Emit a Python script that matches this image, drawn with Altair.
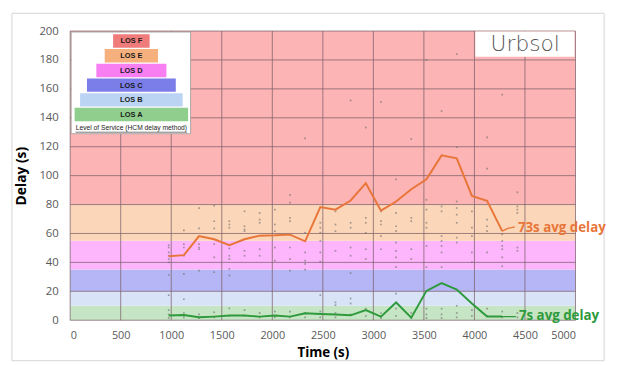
import altair as alt
import pandas as pd

# ---------------- data ----------------
times = [975, 1125, 1275, 1425, 1575, 1725, 1875, 2025, 2175, 2325, 2475, 2625,
         2775, 2925, 3075, 3225, 3375, 3525, 3675, 3825, 3975, 4125, 4275]
avg_delay = [44.2, 45.0, 58.2, 56.0, 51.9, 56.0, 58.5, 58.7, 59.2, 54.6, 78.3, 76.5,
             82.8, 94.8, 75.8, 82.1, 90.6, 97.4, 114.0, 112.0, 86.0, 82.6, 61.6]
short_delay = [3.2, 3.6, 2.0, 2.5, 3.2, 3.2, 2.5, 3.2, 2.5, 4.8, 4.3, 4.0,
               3.4, 7.0, 2.5, 12.3, 1.8, 20.3, 25.7, 21.2, 11.6, 2.5, 2.5]

scatter_times = [975, 1125, 1275, 1425, 1575, 1725, 1875, 2025, 2175, 2325, 2475, 2625,
                 2775, 2925, 3075, 3225, 3375, 3525, 3675, 3825, 3975, 4125, 4275, 4425]
scatter_delays = [
    [51.9, 50.3, 46.9, 44.6, 42.3, 40.1, 31.4, 17.3, 7.0, 4, 1.5],
    [62.1, 52.6, 50.3, 44.6, 32.1, 14.5, 5, 2],
    [77.6, 63.5, 52.6, 50.3, 49.1, 34.3, 4, 1.5],
    [79.2, 68.5, 63.5, 56, 52.6, 43.5, 33.2, 5.5, 2],
    [68.5, 66.2, 64, 49.6, 44.6, 42.3, 35.5, 30.9, 8.2, 3],
    [75.3, 65, 62.8, 61.6, 48, 44.6, 7, 3],
    [74.2, 69.6, 67.4, 49.1, 44.6, 5, 2],
    [76.5, 66.2, 61.6, 50.3, 41.2, 6, 2],
    [86.7, 81.4, 70.8, 68.5, 50.3, 42.3, 34.3, 6, 2],
    [125.8, 60.5, 46.9, 41.2, 38.9, 35, 5, 2],
    [67.4, 64, 60.5, 54.8, 46.9, 40.5, 17.3, 6, 2],
    [75.3, 66.2, 61.6, 48, 12.3, 10.4, 5, 2],
    [152, 67.4, 64, 50.3, 44.6, 32.6, 15, 11.6, 4],
    [133.3, 70.8, 67.4, 60.5, 49.1, 42.3, 8, 3],
    [151, 75.3, 68.5, 66.2, 58.2, 49.1, 5, 1.5],
    [97.4, 74.2, 65, 61.6, 53.7, 48, 43.5, 36.7, 18.4, 8, 3],
    [125.4, 70.8, 68.5, 49.1, 42.3, 5, 1.5],
    [180, 83.3, 76.5, 67.4, 64, 51.4, 36.7, 8, 4, 1.5],
    [144.7, 78.7, 75.3, 58.2, 54.8, 51.4, 46.9, 36.7, 8, 4, 1.5],
    [184, 119.7, 82.1, 77.6, 73, 67.4, 57.1, 53.7, 10, 5, 2],
    [75.3, 64, 58.2, 46.9, 40.1, 7, 3],
    [126.5, 104.9, 69.6, 65, 61.6, 46.9, 8, 3],
    [156, 59.4, 54.8, 51.4, 49.1, 43.5, 37.3, 6, 2],
    [88.5, 78.7, 76.5, 74.2, 50.3, 48, 5, 2],
]

los_names = ["LOS A", "LOS B", "LOS C", "LOS D", "LOS E", "LOS F"]
los_lo = [0, 10, 20, 35, 55, 80]
los_hi = [10, 20, 35, 55, 80, 200]
band_colors = ["#c6e5c4", "#d8e3f8", "#b6b6f6", "#fdb6fb", "#fcd6b8", "#fdb4b4"]
legend_colors = ["#8fce8c", "#bcd4f4", "#7b7de8", "#f77ff2", "#f5b07e", "#f07b7b"]

x_ticks = [0, 500, 1000, 1500, 2000, 2500, 3000, 3500, 4000, 4500, 5000]
y_ticks = [0, 20, 40, 60, 80, 100, 120, 140, 160, 180, 200]

labels = ["73s avg delay", "7s avg delay"]
label_colors = ["#e8763a", "#2e9a3c"]

# ---------------- layout ----------------
W, H = 512, 293
FONT = "Open Sans"

xs = alt.Scale(domain=[0, 5000], nice=False, zero=False)
ys = alt.Scale(domain=[0, 200], nice=False)

AX_X = alt.Axis(values=x_ticks, format="d", grid=False, ticks=False, domain=False,
                labelOverlap=False,
                labelPadding=10, labelFontSize=11, labelColor="#595959", labelFont=FONT,
                titleFont=FONT, titleFontSize=13.5, titleFontWeight="bold",
                titleColor="#000000", titlePadding=5)
AX_Y = alt.Axis(values=y_ticks, format="d", grid=False, ticks=False, domain=False,
                labelOverlap=False,
                labelPadding=12, labelFontSize=11.5, labelColor="#595959", labelFont=FONT,
                titleFont=FONT, titleFontSize=14, titleFontWeight="bold",
                titleColor="#000000", titlePadding=11)


def X(f):
    return alt.X(f, scale=xs, axis=AX_X, title="Time (s)")


def Y(f):
    return alt.Y(f, scale=ys, axis=AX_Y, title="Delay (s)")


bands_df = pd.DataFrame({"name": los_names, "lo": los_lo, "hi": los_hi, "color": band_colors})
bands = alt.Chart(bands_df).mark_rect().encode(
    x=alt.value(0), x2=alt.value(W),
    y=Y("lo:Q"), y2="hi:Q",
    color=alt.Color("color:N", scale=None),
)

GRID = dict(color="#7a5f6a", strokeWidth=1, opacity=0.75)
vgrid = alt.Chart(pd.DataFrame({"t": x_ticks})).mark_rule(**GRID).encode(
    x=X("t:Q"), y=alt.value(0), y2=alt.value(H))
hgrid = alt.Chart(pd.DataFrame({"d": y_ticks})).mark_rule(**GRID).encode(
    y=Y("d:Q"), x=alt.value(0), x2=alt.value(W))

sc_rows = [{"t": t, "d": d} for t, ds in zip(scatter_times, scatter_delays) for d in ds]
dots = alt.Chart(pd.DataFrame(sc_rows)).mark_point(
    shape="square", size=3, filled=True, color="#6b6b6b", opacity=0.6
).encode(x=X("t:Q"), y=Y("d:Q"))

lines_df = pd.DataFrame({"t": times * 2,
                         "d": avg_delay + short_delay,
                         "s": ["avg"] * len(times) + ["short"] * len(times)})
lines = alt.Chart(lines_df).mark_line(strokeWidth=2).encode(
    x=X("t:Q"), y=Y("d:Q"),
    color=alt.Color("s:N", scale=alt.Scale(domain=["avg", "short"], range=label_colors), legend=None),
)

# leader lines from the end of each series to its label
lead_df = pd.DataFrame({"t": [4275, 4330, 4400, 4275, 4410],
                        "d": [61.6, 63.5, 64.5, 2.5, 2.5],
                        "s": ["avg", "avg", "avg", "short", "short"]})
leads = alt.Chart(lead_df).mark_line(strokeWidth=1.3).encode(
    x=X("t:Q"), y=Y("d:Q"),
    color=alt.Color("s:N", scale=alt.Scale(domain=["avg", "short"], range=label_colors), legend=None),
    detail="s:N",
)
lab_df = pd.DataFrame({"t": [4430, 4440], "d": [64.0, 2.8], "txt": labels, "c": label_colors})
labs = alt.Chart(lab_df).mark_text(align="left", baseline="middle", font=FONT, fontSize=13.5,
                                   fontWeight="bold").encode(
    x=X("t:Q"), y=Y("d:Q"), text="txt:N",
    color=alt.Color("c:N", scale=None))

# ---------------- LOS legend pyramid (pixel layout) ----------------
box_df = pd.DataFrame({"x": [1], "x2": [122], "y": [1], "y2": [104]})
legend_box = alt.Chart(box_df).mark_rect(fill="white", stroke="#9a9a9a", strokeWidth=0.8).encode(
    x=alt.X("x:Q", scale=None), x2="x2:Q", y=alt.Y("y:Q", scale=None), y2="y2:Q")

leg_widths = [115, 104, 90, 71, 54, 37]
rows = []
for i, (n, c, w) in enumerate(zip(los_names, legend_colors, leg_widths)):
    top = 3.3 + (5 - i) * 14.9
    rows.append({"x": 62 - w / 2, "x2": 62 + w / 2, "y": top, "y2": top + 13.6,
                 "yc": top + 7.2, "name": n, "c": c})
leg_df = pd.DataFrame(rows)
leg_bars = alt.Chart(leg_df).mark_rect().encode(
    x=alt.X("x:Q", scale=None), x2="x2:Q", y=alt.Y("y:Q", scale=None), y2="y2:Q",
    color=alt.Color("c:N", scale=None))
leg_text = alt.Chart(leg_df).mark_text(font="Liberation Sans", fontSize=7.5, fontWeight="bold",
                                       color="#1a1a1a", baseline="middle").encode(
    x=alt.X("xc:Q", scale=None), y=alt.Y("yc:Q", scale=None), text="name:N"
).transform_calculate(xc="62")
cap_df = pd.DataFrame({"x": [62], "y": [98.5], "txt": ["Level of Service (HCM delay method)"]})
leg_cap = alt.Chart(cap_df).mark_text(font="Liberation Sans", fontSize=6.8, color="#222222",
                                      baseline="middle").encode(
    x=alt.X("x:Q", scale=None), y=alt.Y("y:Q", scale=None), text="txt:N")
ul_df = pd.DataFrame({"x": [5.5], "x2": [118.5], "y": [102.5]})
leg_ul = alt.Chart(ul_df).mark_rule(color="#222222", strokeWidth=0.6).encode(
    x=alt.X("x:Q", scale=None), x2="x2:Q", y=alt.Y("y:Q", scale=None))

# ---------------- logo ----------------
logo_df = pd.DataFrame({"x": [410.5], "x2": [511], "y": [0.5], "y2": [26], "xc": [461], "yc": [13.5],
                        "txt": ["Urbsol"]})
logo_box = alt.Chart(logo_df).mark_rect(fill="white").encode(
    x=alt.X("x:Q", scale=None), x2="x2:Q", y=alt.Y("y:Q", scale=None), y2="y2:Q")
logo_txt = alt.Chart(logo_df).mark_text(font="DejaVu Sans", fontSize=22, fontWeight=200,
                                        color="#555555", baseline="middle").encode(
    x=alt.X("xc:Q", scale=None), y=alt.Y("yc:Q", scale=None), text="txt:N")

# ---------------- outer frame ----------------
frame = alt.Chart(pd.DataFrame({"k": [0]})).mark_rect(fill=None, stroke="#d4d4d4", strokeWidth=1).encode(
    x=alt.value(-59), x2=alt.value(541), y=alt.value(-18), y2=alt.value(334))

chart = alt.layer(
    frame, bands, vgrid, hgrid, dots, lines, leads, labs,
    legend_box, leg_bars, leg_text, leg_cap, leg_ul, logo_box, logo_txt,
).properties(
    width=W, height=H,
    autosize=alt.AutoSizeParams(type="none"),
    padding={"left": 63, "top": 21, "right": 38, "bottom": 42},
    background="white",
).configure_view(stroke=None)

chart.save("out.html", embed_options={"renderer": "svg", "actions": False})
